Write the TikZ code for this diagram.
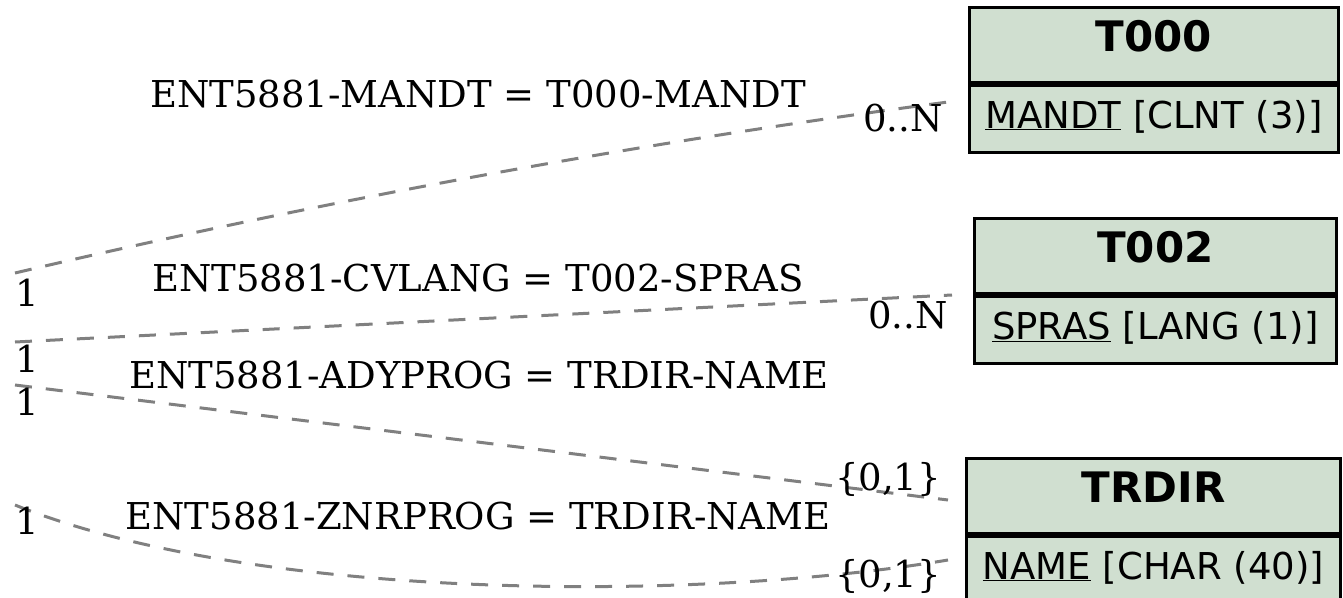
\documentclass[tikz,border=0pt]{standalone}
\usepackage{fontspec}
\setmainfont{DejaVu Serif}
\newfontfamily\tabfont{DejaVu Sans}
\usetikzlibrary{positioning}
\definecolor{tabfill}{RGB}{208,223,208}
\definecolor{relgray}{RGB}{128,128,128}

\begin{document}
\begin{tikzpicture}[x=1pt,y=-1pt]
    % settings for this picture
    \tikzset{
      head/.style={draw, line width=3pt, fill=tabfill, inner sep=0pt,
        anchor=north west, minimum width=#1, minimum height=75pt,
        text depth=18pt, font=\tabfont\bfseries\fontsize{42}{50}\selectfont},
      field/.style={draw, line width=3pt, fill=tabfill, inner sep=0pt,
        minimum width=#1, minimum height=67pt, text depth=10pt,
        font=\tabfont\fontsize{37}{45}\selectfont},
      rel/.style={draw=relgray, line width=3pt, dash pattern=on 17pt off 14pt},
      card/.style={inner sep=0pt, font=\fontsize{37}{44}\selectfont},
    }
    \useasboundingbox (0,0) rectangle (1343,597);

    % tables
    \node[head=369pt] (t000) at (968,6) {T000};
    \node[field=369pt, below=0pt of t000] (t000f) {\underline{MANDT} [CLNT (3)]};
    \node[head=362pt] (t002) at (973,217) {T002};
    \node[field=362pt, below=0pt of t002] (t002f) {\underline{SPRAS} [LANG (1)]};
    \node[head=374pt] (trdir) at (965,457) {TRDIR};
    \node[field=374pt, below=0pt of trdir] (trdirf) {\underline{NAME} [CHAR (40)]};

    % connector ends
    \coordinate (a1) at (15,273);
    \coordinate (b1) at (948,102);
    \coordinate (a2) at (15,342);
    \coordinate (b2) at (952,295);
    \coordinate (a3) at (15,385);
    \coordinate (b3) at (948,500);
    \coordinate (a4) at (15,505);
    \coordinate (b4) at (948,560);

    % relations
    \draw[rel] (a1) .. controls (326,200) and (637,143) .. (b1);
    \draw[rel] (a2) -- (b2);
    \draw[rel] (a3) -- (b3);
    \draw[rel] (a4) .. controls (250,600) and (690,603) .. (b4);

    % labels
    \node[card] (r1) at (478,94) {ENT5881-MANDT = T000-MANDT};
    \node[card] (r2) at (478,278) {ENT5881-CVLANG = T002-SPRAS};
    \node[card] (r3) at (479,375) {ENT5881-ADYPROG = TRDIR-NAME};
    \node[card] (r4) at (478,516) {ENT5881-ZNRPROG = TRDIR-NAME};

    % cardinalities
    \node[card] (c1) at (27,293) {1};
    \node[card] (c2) at (27,359) {1};
    \node[card] (c3) at (27,402) {1};
    \node[card] (c4) at (27,521) {1};
    \node[card] (n1) at (903,118) {0..N};
    \node[card] (n2) at (908,315) {0..N};
    \node[card] (n3) at (888,479) {\{0,1\}};
    \node[card] (n4) at (888,576) {\{0,1\}};

  \end{tikzpicture}
\end{document}
